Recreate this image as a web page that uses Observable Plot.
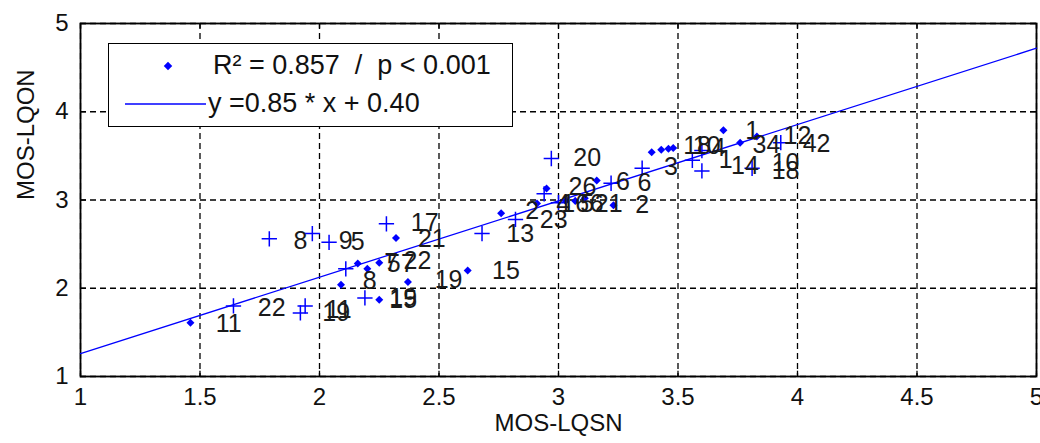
<!DOCTYPE html>
<html>
<head>
<meta charset="utf-8">
<script src="https://cdn.jsdelivr.net/npm/d3@7"></script>
<script src="https://cdn.jsdelivr.net/npm/@observablehq/plot@0.6"></script>
<style>
  html, body { margin: 0; padding: 0; background: #fff; }
  #wrap { position: relative; width: 1040px; height: 443px; font-family: "Liberation Sans", Arial, sans-serif; }
  #legend { position: absolute; left: 108px; top: 43px; width: 403px; height: 82px; border: 1.5px solid #000; background: #fff; }
  #legend svg { position: absolute; left: 0; top: 0; }
  .lt { position: absolute; font-size: 27px; color: #111; white-space: pre; line-height: 1; }
</style>
</head>
<body>
<div id="wrap"></div>
<script>
// Diamond markers (MOS-LQSN, MOS-LQON)
const dotX = [1.46, 2.09, 2.32, 2.16, 2.20, 2.25, 2.37, 2.25, 2.62, 2.76, 2.91, 2.95, 3.16, 3.23, 3.03, 3.07, 3.11, 3.39, 3.43, 3.46, 3.48, 3.69, 3.76, 3.83];
const dotY = [1.61, 2.04, 2.57, 2.28, 2.22, 2.29, 2.07, 1.87, 2.20, 2.85, 2.96, 3.13, 3.22, 2.94, 2.99, 2.99, 3.02, 3.54, 3.57, 3.58, 3.59, 3.79, 3.65, 3.72];
// Plus markers
const plusX = [1.64, 1.92, 1.94, 1.79, 1.97, 2.04, 2.11, 2.28, 2.19, 2.68, 2.82, 2.97, 2.94, 3.00, 3.22, 3.35, 3.56, 3.60, 3.60, 3.81, 3.93];
const plusY = [1.80, 1.72, 1.80, 2.56, 2.62, 2.52, 2.22, 2.73, 1.89, 2.62, 2.78, 3.47, 3.07, 2.97, 3.19, 3.36, 3.45, 3.33, 3.56, 3.36, 3.65];
// Point number labels
const labelText = ["20","6","6","2","3","18","10","4","1","34","12","42","1","14","10","18","26","4","16","5","6","21","2","23","13","17","21","9","5","22","7","5","7","8","19","15","19","15","8","22","11","19","11"];
const labelX = [3.12,3.27,3.36,3.35,3.47,3.58,3.62,3.67,3.81,3.87,4.00,4.08,3.70,3.78,3.95,3.95,3.10,3.02,3.07,3.12,3.16,3.21,2.89,2.98,2.84,2.44,2.47,2.11,2.16,2.41,2.30,2.31,2.37,2.21,2.54,2.78,2.35,2.35,1.92,1.80,1.62,2.07,2.08];
const labelY = [3.48,3.20,3.19,2.94,3.37,3.61,3.61,3.59,3.78,3.62,3.72,3.64,3.45,3.38,3.42,3.33,3.15,2.96,2.96,2.96,2.96,2.96,2.88,2.77,2.61,2.74,2.56,2.54,2.52,2.31,2.29,2.27,2.27,2.08,2.09,2.20,1.89,1.87,2.54,1.78,1.60,1.72,1.75];
// Fit line endpoints as drawn
const fitX = [1, 5];
const fitY = [1.26, 4.72];
const xTicks = [1, 1.5, 2, 2.5, 3, 3.5, 4, 4.5, 5];
const yTicks = [1, 2, 3, 4, 5];

const dots = dotX.map((x, i) => ({x, y: dotY[i]}));
const pluses = plusX.map((x, i) => ({x, y: plusY[i]}));
const labels = labelText.map((t, i) => ({t, x: labelX[i], y: labelY[i]}));
const fit = fitX.map((x, i) => ({x, y: fitY[i]}));

const blue = "#0000ff";
const chart = Plot.plot({
  width: 1040, height: 443,
  marginLeft: 80, marginRight: 4, marginTop: 23, marginBottom: 67,
  style: {fontFamily: "'Liberation Sans', Arial, sans-serif", fontSize: "20px", color: "#111", background: "#fff"},
  x: {domain: [1, 5], label: null},
  y: {domain: [1, 5], label: null},
  marks: [
    Plot.gridX(xTicks, {stroke: "#000", strokeOpacity: 1, strokeWidth: 1.3, strokeDasharray: "6,4"}),
    Plot.gridY(yTicks, {stroke: "#000", strokeOpacity: 1, strokeWidth: 1.3, strokeDasharray: "6,4"}),
    Plot.ruleX(xTicks, {y1: 1, y2: 1.06, stroke: "#000", strokeWidth: 1.3}),
    Plot.ruleX(xTicks, {y1: 5, y2: 4.94, stroke: "#000", strokeWidth: 1.3}),
    Plot.ruleY(yTicks, {x1: 1, x2: 1.025, stroke: "#000", strokeWidth: 1.3}),
    Plot.ruleY(yTicks, {x1: 5, x2: 4.975, stroke: "#000", strokeWidth: 1.3}),
    Plot.frame({stroke: "#000", strokeWidth: 1.8}),
    Plot.axisX(xTicks, {tickSize: 0, tickPadding: 11, fontSize: 24, tickFormat: d => String(d), textAnchor: "middle", label: null}),
    Plot.axisY(yTicks, {tickSize: 0, tickPadding: 12, fontSize: 24, tickFormat: d => String(d), label: null}),
    Plot.text(["MOS-LQSN"], {frameAnchor: "bottom", dy: 54, fontSize: 24, fill: "#111"}),
    Plot.text(["MOS-LQON"], {frameAnchor: "left", dx: -54, rotate: -90, fontSize: 24, fill: "#111"}),
    Plot.line(fit, {x: "x", y: "y", stroke: blue, strokeWidth: 1.3}),
    Plot.dot(dots, {x: "x", y: "y", symbol: "square", r: 3.2, rotate: 45, fill: blue, stroke: "none"}),
    Plot.dot(pluses, {x: "x", y: "y", symbol: "plus", r: 5, stroke: blue, strokeWidth: 1.5}),
    Plot.text(labels, {x: "x", y: "y", text: "t", fill: "#1a1a1a", fontSize: 25})
  ]
});
const wrap = document.getElementById("wrap");
wrap.appendChild(chart);

const legend = document.createElement("div");
legend.id = "legend";
legend.innerHTML = `
<svg width="403" height="82">
  <rect x="-4" y="-4" width="8" height="8" fill="${blue}" transform="translate(59,22) rotate(45) scale(0.75)"></rect>
  <line x1="16" x2="97" y1="60" y2="60" stroke="${blue}" stroke-width="1.4"></line>
</svg>
<div class="lt" style="left:104px; top:8px;">R² = 0.857  /  p &lt; 0.001</div>
<div class="lt" style="left:99px; top:46px;">y =0.85 * x + 0.40</div>`;
wrap.appendChild(legend);
</script>
</body>
</html>
